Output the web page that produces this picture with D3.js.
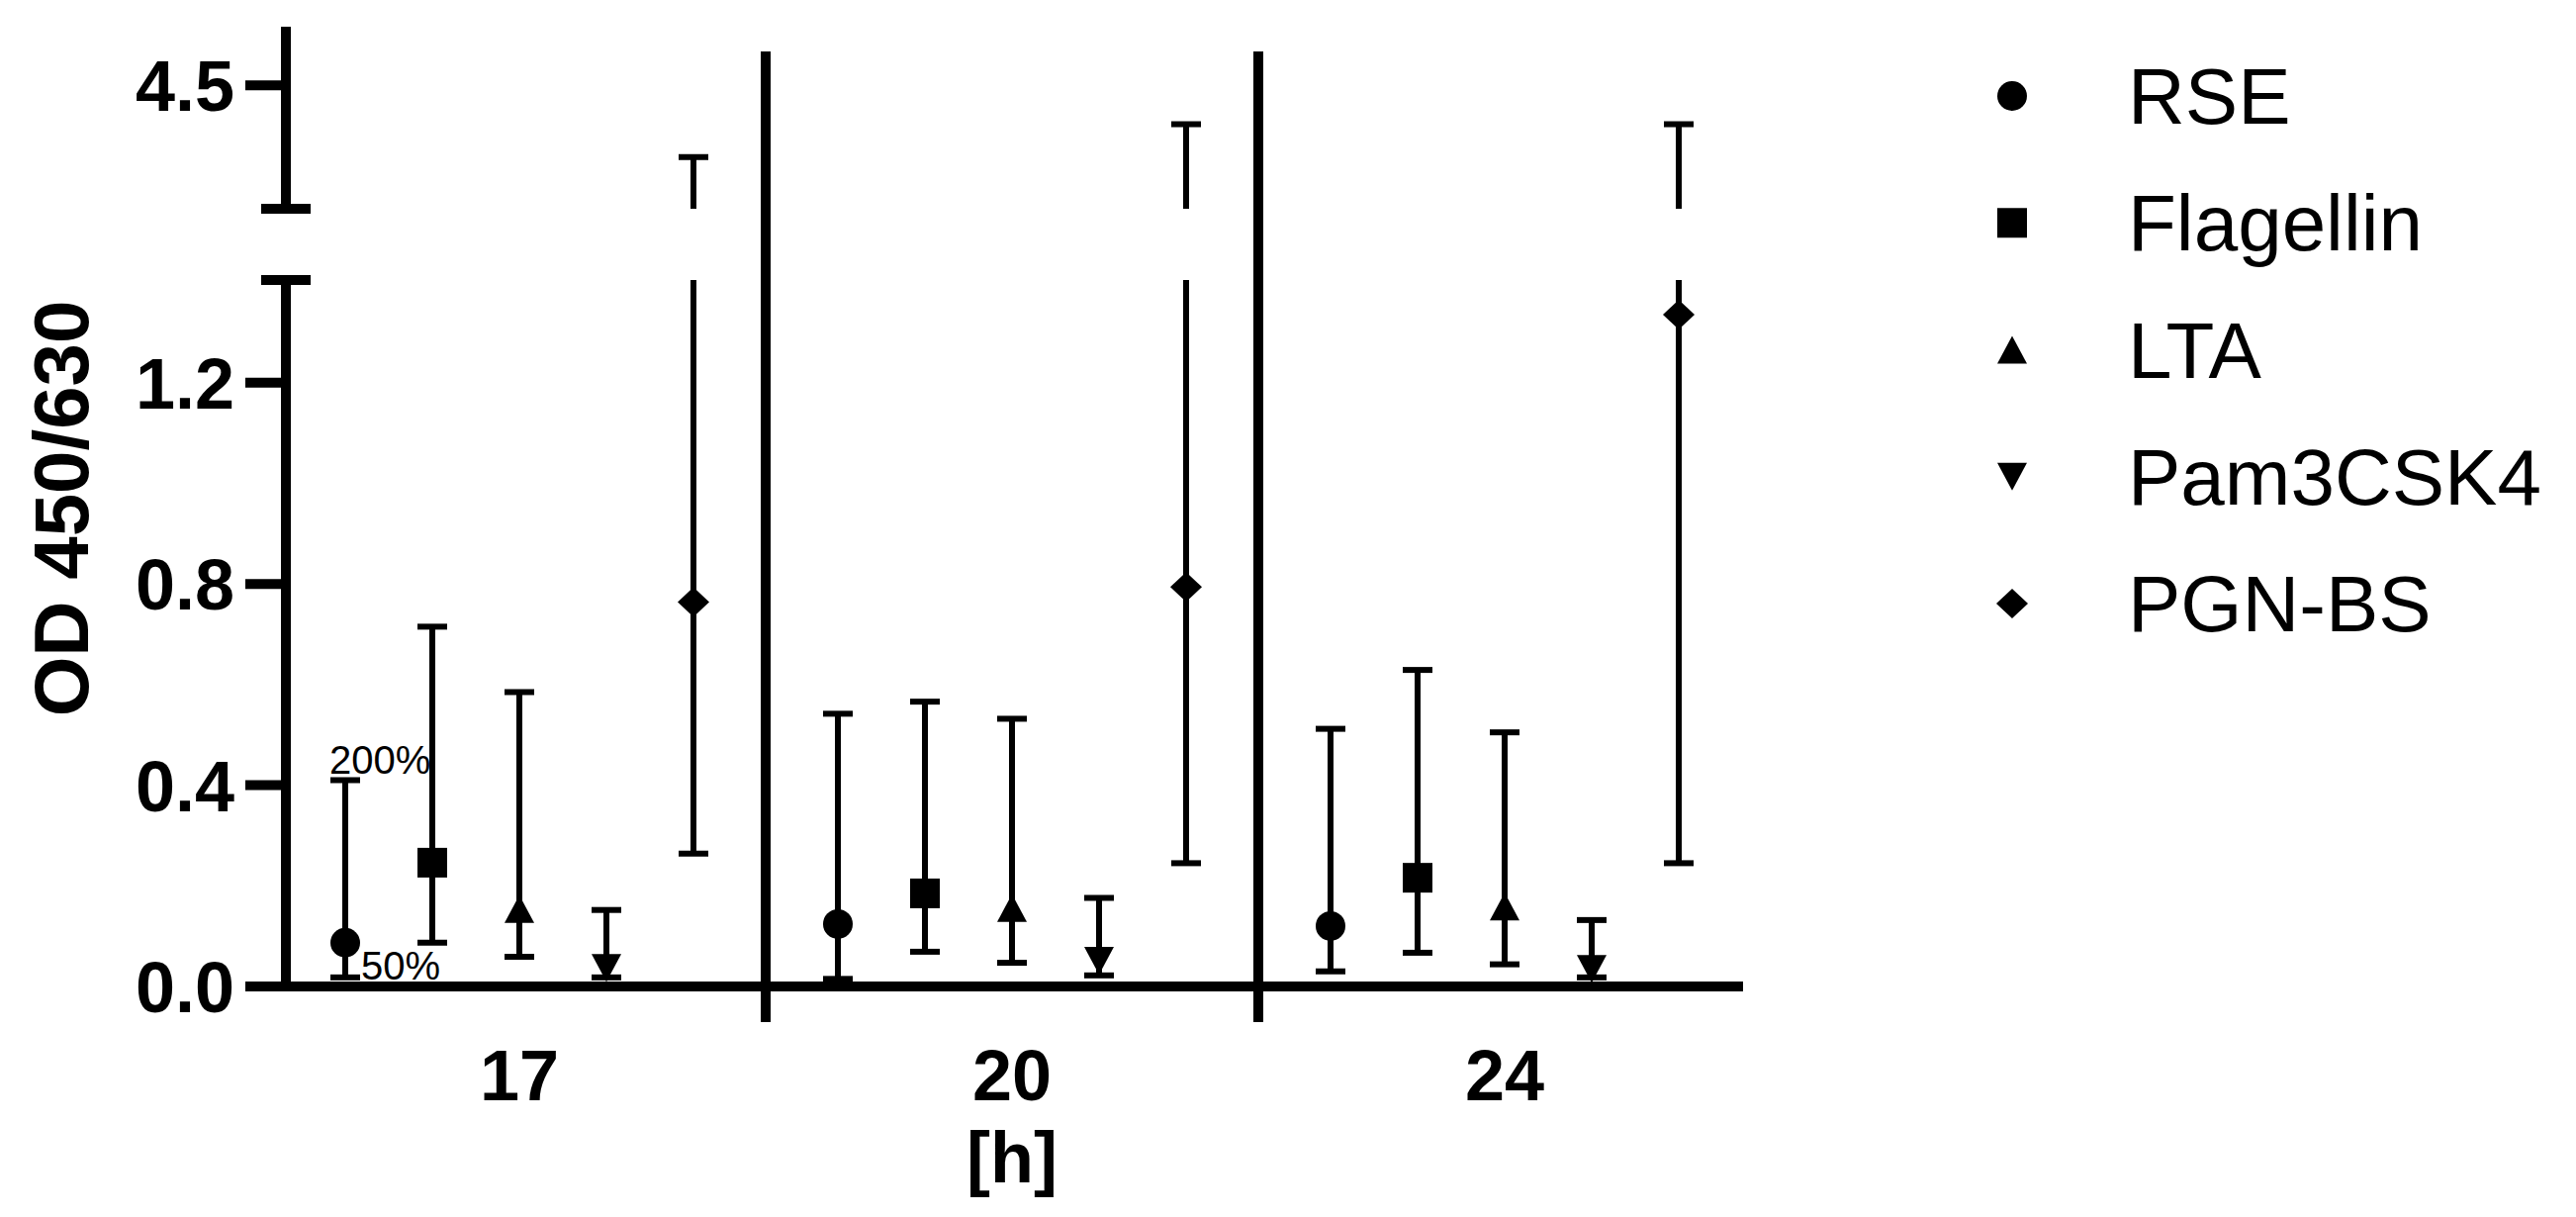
<!DOCTYPE html>
<html><head><meta charset="utf-8">
<script src="https://cdn.jsdelivr.net/npm/d3@7"></script>
<style>html,body{margin:0;padding:0;background:#fff;}svg{display:block;}</style>
</head><body>
<script>
// ---- data ----
const categories = ["17", "20", "24"];
const series = ["RSE", "Flagellin", "LTA", "Pam3CSK4", "PGN-BS"];
const shapes = ["circle", "square", "triangleUp", "triangleDown", "diamond"];
// mean values per series, per category (17, 20, 24)
const meanRSE  = [0.087, 0.124, 0.120];
const meanFla  = [0.246, 0.185, 0.216];
const meanLTA  = [0.154, 0.156, 0.159];
const meanPam  = [0.037, 0.051, 0.035];
const meanPGN  = [0.764, 0.794, 1.335];
// error bar upper ends
const upRSE = [0.410, 0.542, 0.512];
const upFla = [0.715, 0.566, 0.629];
const upLTA = [0.585, 0.532, 0.505];
const upPam = [0.152, 0.176, 0.132];
const upPGN = [3.89, 4.17, 4.17];
// error bar lower ends
const loRSE = [0.018, 0.015, 0.030];
const loFla = [0.087, 0.069, 0.067];
const loLTA = [0.059, 0.047, 0.044];
const loPam = [0.018, 0.022, 0.018];
const loPGN = [0.264, 0.245, 0.245];
const lowerTicks = [0.0, 0.4, 0.8, 1.2];
const upperTicks = [4.5];
const yTitle = "OD 450/630";
const xTitle = "[h]";
const annot = [{text: "200%", cat: "17", v: 0.41, dx: -16, dy: -6}, {text: "50%", cat: "17", v: 0.0, dx: 16, dy: -7}];

const means = [meanRSE, meanFla, meanLTA, meanPam, meanPGN];
const ups = [upRSE, upFla, upLTA, upPam, upPGN];
const los = [loRSE, loFla, loLTA, loPam, loPGN];

// ---- layout ----
const W = 2604, H = 1230;
const FONT = "'Liberation Sans', Arial, sans-serif";
const svg = d3.select("body").append("svg").attr("width", W).attr("height", H)
  .style("font-family", FONT);
svg.append("rect").attr("width", W).attr("height", H).attr("fill", "#fff");

const axisX = 289, axisY = 997;
const x = d3.scaleBand().domain(categories).range([276, 1770]).padding(0);
const off = d3.scalePoint().domain(series).range([-176, 176]);
const yLow = d3.scaleLinear().domain([0, 1.4]).range([997, 285]);
const yHigh = d3.scaleLinear().domain([3.45, 5]).range([211, 27]);
const breakLow = 1.4, breakHigh = 3.45;
const yPos = v => v <= breakLow ? yLow(v) : yHigh(v);

const AX = 10, EB = 6, CAP = 30;

// separators between categories
categories.slice(1).forEach(c => {
  svg.append("line").attr("x1", x(c)).attr("x2", x(c)).attr("y1", 52).attr("y2", 1033)
    .attr("stroke", "#000").attr("stroke-width", AX);
});

// x axis
svg.append("line").attr("x1", 248).attr("x2", 1762).attr("y1", axisY).attr("y2", axisY)
  .attr("stroke", "#000").attr("stroke-width", AX);

// y axis lower segment
svg.append("line").attr("x1", axisX).attr("x2", axisX).attr("y1", yLow(0)).attr("y2", 283)
  .attr("stroke", "#000").attr("stroke-width", AX);
svg.append("line").attr("x1", axisX - 25).attr("x2", axisX + 25).attr("y1", 283).attr("y2", 283)
  .attr("stroke", "#000").attr("stroke-width", AX);
// y axis upper segment
svg.append("line").attr("x1", axisX).attr("x2", axisX).attr("y1", yHigh.range()[0]).attr("y2", yHigh.range()[1])
  .attr("stroke", "#000").attr("stroke-width", AX);
svg.append("line").attr("x1", axisX - 25).attr("x2", axisX + 25).attr("y1", yHigh.range()[0]).attr("y2", yHigh.range()[0])
  .attr("stroke", "#000").attr("stroke-width", AX);

// ticks + labels
const fmt = d3.format(".1f");
function ticks(scale, vals) {
  vals.forEach(v => {
    const yy = scale(v);
    svg.append("line").attr("x1", 248).attr("x2", axisX).attr("y1", yy).attr("y2", yy)
      .attr("stroke", "#000").attr("stroke-width", AX);
    svg.append("text").attr("x", 237).attr("y", yy + 26).attr("text-anchor", "end")
      .attr("font-size", 72).attr("font-weight", "bold").text(fmt(v));
  });
}
ticks(yLow, lowerTicks);
ticks(yHigh, upperTicks);

// y title
svg.append("text").attr("transform", `translate(89,514) rotate(-90)`).attr("text-anchor", "middle")
  .attr("font-size", 78).attr("font-weight", "bold").text(yTitle);

// x labels
categories.forEach(c => {
  svg.append("text").attr("x", x(c) + x.bandwidth() / 2).attr("y", 1112).attr("text-anchor", "middle")
    .attr("font-size", 72).attr("font-weight", "bold").text(c);
});
svg.append("text").attr("x", (x.range()[0] + x.range()[1]) / 2).attr("y", 1195).attr("text-anchor", "middle")
  .attr("font-size", 72).attr("font-weight", "bold").text(xTitle);

// marker shapes
function shapePath(kind) {
  const p = d3.path();
  if (kind === "circle") { p.arc(0, 0, 15, 0, 2 * Math.PI); }
  else if (kind === "square") { p.rect(-15, -15, 30, 30); }
  else if (kind === "triangleUp") { p.moveTo(0, -14); p.lineTo(15, 14); p.lineTo(-15, 14); p.closePath(); }
  else if (kind === "triangleDown") { p.moveTo(0, 14); p.lineTo(15, -14); p.lineTo(-15, -14); p.closePath(); }
  else if (kind === "diamond") { p.moveTo(0, -15); p.lineTo(16, 0); p.lineTo(0, 15); p.lineTo(-16, 0); p.closePath(); }
  return p.toString();
}

// error bars and points
series.forEach((s, si) => {
  categories.forEach((c, ci) => {
    const cx = x(c) + x.bandwidth() / 2 + off(s);
    const lo = los[si][ci], hi = ups[si][ci], m = means[si][ci];
    const g = svg.append("g");
    if (hi > breakLow) {
      g.append("line").attr("x1", cx).attr("x2", cx).attr("y1", yLow(lo)).attr("y2", 283)
        .attr("stroke", "#000").attr("stroke-width", EB);
      g.append("line").attr("x1", cx).attr("x2", cx).attr("y1", yHigh(breakHigh)).attr("y2", yHigh(hi))
        .attr("stroke", "#000").attr("stroke-width", EB);
    } else {
      g.append("line").attr("x1", cx).attr("x2", cx).attr("y1", yLow(lo)).attr("y2", yLow(hi))
        .attr("stroke", "#000").attr("stroke-width", EB);
    }
    [lo, hi].forEach(v => {
      g.append("line").attr("x1", cx - CAP / 2).attr("x2", cx + CAP / 2).attr("y1", yPos(v)).attr("y2", yPos(v))
        .attr("stroke", "#000").attr("stroke-width", EB);
    });
    g.append("path").attr("d", shapePath(shapes[si])).attr("transform", `translate(${cx},${yPos(m)})`)
      .attr("fill", "#000");
  });
});

// annotations
annot.forEach(a => {
  const cx = x(a.cat) + x.bandwidth() / 2 + off(series[0]);
  svg.append("text").attr("x", cx + a.dx).attr("y", yLow(a.v) + a.dy)
    .attr("font-size", 40).text(a.text);
});

// legend
const leg = d3.scalePoint().domain(series).range([125, 638]);
series.forEach((s, si) => {
  svg.append("path").attr("d", shapePath(shapes[si])).attr("transform", `translate(2034,${leg(s) - 28})`).attr("fill", "#000");
  svg.append("text").attr("x", 2151).attr("y", leg(s)).attr("font-size", 80).text(s);
});
</script>
</body></html>
